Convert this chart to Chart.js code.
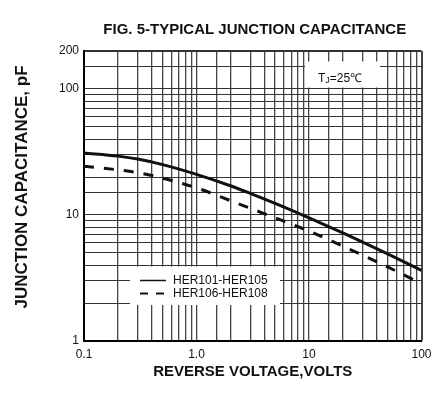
<!DOCTYPE html>
<html>
<head>
<meta charset="utf-8">
<script src="https://cdn.jsdelivr.net/npm/chart.js@4"></script>
<style>
  body { margin: 0; background: #fff; }
  canvas { display: block; }
</style>
</head>
<body>
<canvas id="capChart" width="445" height="399"></canvas>
<script>
// values (pF at each reverse voltage)
const voltages = [0.1, 0.2, 0.3, 0.5, 1, 2, 3, 5, 10, 20, 30, 50, 100];
const her101to105 = [31, 29.3, 27.8, 25.1, 21, 17.05, 14.85, 12.36, 9.5, 7.2, 6.1, 4.92, 3.63];
const her106to108 = [24.4, 22.8, 21.7, 19.6, 16.4, 13.0, 11.3, 9.5, 7.45, 5.65, 4.8, 3.87, 2.85];
const seriesLabels = ["HER101-HER105", "HER106-HER108"];
const xTickLabels = { "0.1": "0.1", "1": "1.0", "10": "10", "100": "100" };
const yTickLabels = { "1": "1", "10": "10", "100": "100", "200": "200" };

const FONT = "'Liberation Sans', Arial, sans-serif";

function toPoints(values) {
  return voltages.map((v, i) => ({ x: v, y: values[i] }));
}

function tickKey(value) {
  return String(Number(value.toPrecision(6)));
}

// title, axis titles, legend box and Tj note
const decorations = {
  id: "decorations",
  beforeDatasetsDraw(chart) {
    const { ctx, chartArea: a } = chart;
    ctx.save();
    ctx.fillStyle = "#fff";
    ctx.fillRect(a.left + 46, a.bottom - 74.5, 150, 38.5);
    ctx.fillRect(a.right - 116.5, a.top + 10.5, 75, 26);

    ctx.strokeStyle = "#111";
    ctx.lineWidth = 1.5;
    ctx.beginPath();
    ctx.moveTo(a.left + 56, a.bottom - 60.5);
    ctx.lineTo(a.left + 82, a.bottom - 60.5);
    ctx.stroke();
    ctx.lineWidth = 2;
    ctx.setLineDash([8, 8]);
    ctx.beginPath();
    ctx.moveTo(a.left + 56, a.bottom - 47.5);
    ctx.lineTo(a.left + 84, a.bottom - 47.5);
    ctx.stroke();
    ctx.setLineDash([]);

    ctx.fillStyle = "#111";
    ctx.font = "12px " + FONT;
    ctx.textBaseline = "middle";
    ctx.fillText(seriesLabels[0], a.left + 89, a.bottom - 60);
    ctx.fillText(seriesLabels[1], a.left + 89, a.bottom - 47);

    // T_J=25℃
    ctx.textBaseline = "alphabetic";
    let x = a.right - 103.5;
    const base = a.top + 30.5;
    ctx.fillText("T", x, base);
    x += ctx.measureText("T").width;
    ctx.font = "9px " + FONT;
    ctx.fillText("J", x, base + 1);
    x += ctx.measureText("J").width;
    ctx.font = "12px " + FONT;
    ctx.fillText("=25℃", x, base);
    ctx.restore();
  },
  afterDraw(chart) {
    const { ctx, chartArea: a } = chart;
    const midX = (a.left + a.right) / 2;
    ctx.save();
    ctx.fillStyle = "#111";
    ctx.textAlign = "center";
    ctx.textBaseline = "middle";
    ctx.font = "bold 15px " + FONT;
    ctx.fillText("FIG. 5-TYPICAL JUNCTION CAPACITANCE", midX + 2, 30);
    ctx.fillText("REVERSE VOLTAGE,VOLTS", midX, 372);
    ctx.translate(22, 187);
    ctx.rotate(-Math.PI / 2);
    ctx.font = "bold 17px " + FONT;
    ctx.fillText("JUNCTION CAPACITANCE, pF", 0, 0);
    ctx.restore();
  }
};

const config = {
  type: "line",
  data: {
    datasets: [
      {
        label: seriesLabels[0],
        data: toPoints(her101to105),
        borderColor: "#111",
        borderWidth: 3,
        pointRadius: 0,
        cubicInterpolationMode: "monotone"
      },
      {
        label: seriesLabels[1],
        data: toPoints(her106to108),
        borderColor: "#111",
        borderWidth: 3,
        borderDash: [10, 10],
        pointRadius: 0,
        cubicInterpolationMode: "monotone"
      }
    ]
  },
  options: {
    responsive: false,
    animation: false,
    layout: { padding: { top: 51, right: 23.5, left: 0, bottom: 0 } },
    plugins: {
      legend: { display: false },
      title: { display: false },
      tooltip: { enabled: false }
    },
    scales: {
      x: {
        type: "logarithmic",
        min: 0.1,
        max: 100,
        afterFit(scale) { scale.height = 58; },
        border: { display: true, color: "#000", width: 2 },
        grid: {
          drawTicks: false,
          color: "#444",
          lineWidth: (c) => (c.tick && tickKey(c.tick.value) === "100" ? 2 : 1.3)
        },
        ticks: {
          autoSkip: false,
          maxRotation: 0,
          padding: 6,
          color: "#111",
          font: { family: FONT, size: 12 },
          callback: (value) => xTickLabels[tickKey(value)] || ""
        }
      },
      y: {
        type: "logarithmic",
        min: 1,
        max: 200,
        afterFit(scale) { scale.width = 84; },
        border: { display: true, color: "#000", width: 2 },
        grid: {
          drawTicks: false,
          color: "#333",
          lineWidth: (c) => (c.tick && tickKey(c.tick.value) === "200" ? 2 : 1)
        },
        ticks: {
          autoSkip: false,
          padding: 5,
          color: "#111",
          font: { family: FONT, size: 12 },
          callback: (value) => yTickLabels[tickKey(value)] || ""
        }
      }
    }
  },
  plugins: [decorations]
};

new Chart(document.getElementById("capChart"), config);
</script>
</body>
</html>
